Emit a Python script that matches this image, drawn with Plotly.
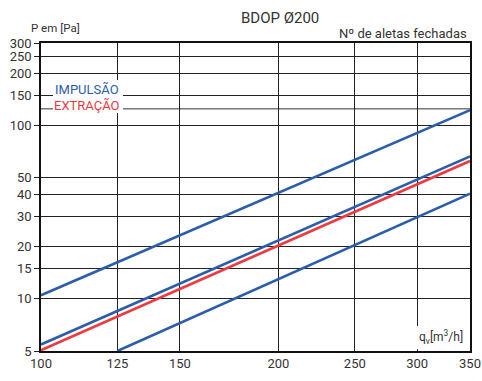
import plotly.graph_objects as go

# Airflow q_v [m3/h] and pressure drop P [Pa] for the BDOP Ø200 grille
q_full = [100, 350]
q_zero = [125, 350]
p_imp_2 = [10.5, 123]
p_imp_1 = [5.45, 66.5]
p_ext_0 = [5.05, 62.5]
p_imp_0 = [5.0, 40.5]

x_ticks = [100, 125, 150, 200, 250, 300, 350]
y_ticks = [5, 10, 15, 20, 30, 40, 50, 100, 150, 200, 250, 300]
y_extra_grid = [125]

BLUE = "#2b5dab"
RED = "#ee3a3f"
TXT = "#333333"
FONT = "Roboto"

series = [
    (q_full, p_imp_2, BLUE, "2"),
    (q_full, p_imp_1, BLUE, "1"),
    (q_full, p_ext_0, RED, "0"),
    (q_zero, p_imp_0, BLUE, "0"),
]

fig = go.Figure()
annotations = []
for xs, ys, col, lab in series:
    fig.add_trace(go.Scatter(x=xs, y=ys, mode="lines",
                             line=dict(color=col, width=2.6),
                             showlegend=False, hoverinfo="skip"))
    annotations.append(dict(x=xs[-1], y=ys[-1], xref="x", yref="y",
                            text=lab, showarrow=False, xanchor="left",
                            yanchor="middle", xshift=3, yshift=4,
                            font=dict(family=FONT, size=13, color=col)))

annotations += [
    dict(text="BDOP Ø200", x=0.558, y=1.0, xref="paper", yref="paper",
         xanchor="center", yanchor="middle", yshift=25, showarrow=False,
         font=dict(family=FONT, size=15, color=TXT)),
    dict(text="Nº de aletas fechadas", x=1.0, y=1.0, xref="paper", yref="paper",
         xanchor="right", yanchor="bottom", xshift=-1, yshift=0, showarrow=False,
         font=dict(family=FONT, size=13, color=TXT)),
    dict(text="P em [Pa]", x=0.0, y=1.0, xref="paper", yref="paper",
         xanchor="left", yanchor="bottom", xshift=-12, yshift=6, showarrow=False,
         font=dict(family=FONT, size=11.5, color=TXT)),
    dict(text="IMPULSÃO", x=0.107, y=0.852, xref="paper", yref="paper",
         xanchor="center", yanchor="middle", showarrow=False,
         font=dict(family=FONT, size=13, color=BLUE)),
    dict(text="EXTRAÇÃO", x=0.107, y=0.8, xref="paper", yref="paper",
         xanchor="center", yanchor="middle", showarrow=False,
         font=dict(family=FONT, size=13, color=RED)),
    dict(text="q<sub>v</sub>[m<sup>3</sup>/h]", x=0.932, y=0.045, xref="paper",
         yref="paper", xanchor="center", yanchor="middle", showarrow=False,
         font=dict(family=FONT, size=12, color=TXT)),
]

# extra unlabelled grid line(s), then white patches behind the in-plot labels
shapes = [
    dict(type="line", xref="paper", yref="y", x0=0, x1=1, y0=v, y1=v,
         line=dict(color="#333333", width=1), layer="between")
    for v in y_extra_grid
]
shapes += [
    dict(type="rect", xref="paper", yref="paper", x0=0.028, x1=0.191,
         y0=0.773, y1=0.88, fillcolor="white", line=dict(width=0),
         layer="above"),
    dict(type="rect", xref="paper", yref="paper", x0=0.874, x1=0.991,
         y0=0.006, y1=0.081, fillcolor="white", line=dict(width=0),
         layer="above"),
]

fig.update_layout(
    width=482, height=381,
    margin=dict(l=41, r=12, t=43, b=30),
    paper_bgcolor="white", plot_bgcolor="white",
    annotations=annotations, shapes=shapes,
    font=dict(family=FONT, color=TXT),
)
fig.update_xaxes(type="log", range=[2, 2.544068], tickvals=x_ticks,
                 ticktext=[str(v) for v in x_ticks], automargin=False,
                 showgrid=True, gridcolor="#222222", gridwidth=1,
                 showline=True, linecolor="#111111", linewidth=1.5, mirror=True,
                 ticks="", zeroline=False,
                 tickfont=dict(family=FONT, size=13, color=TXT))
fig.update_yaxes(type="log", range=[0.69897, 2.477121], tickvals=y_ticks,
                 ticktext=[str(v) for v in y_ticks], automargin=False,
                 showgrid=True, gridcolor="#222222", gridwidth=1,
                 showline=True, linecolor="#111111", linewidth=1.5, mirror=True,
                 ticks="outside", ticklen=5, tickcolor="#222222",
                 zeroline=False,
                 tickfont=dict(family=FONT, size=13, color=TXT))

fig.write_html("out.html")
